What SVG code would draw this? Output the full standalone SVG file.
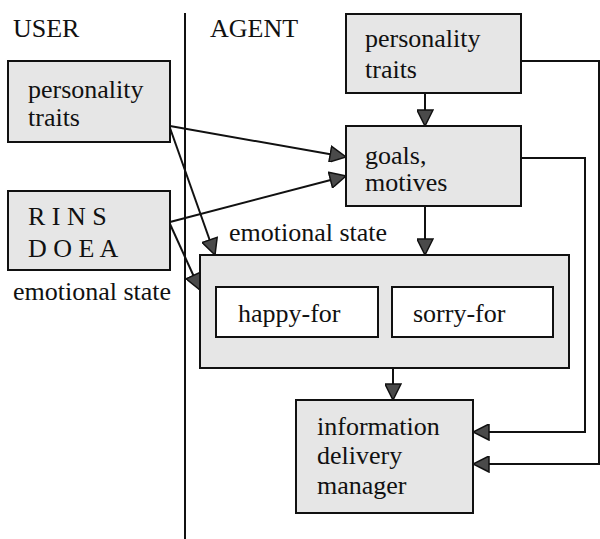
<svg xmlns="http://www.w3.org/2000/svg" width="600" height="539" viewBox="0 0 600 539">
<style>
.box{fill:#e6e6e6;stroke:#111;stroke-width:2}
.inner{fill:#fff;stroke:#111;stroke-width:2}
.ln{fill:none;stroke:#111;stroke-width:2}
</style>
<defs>
<marker id="ah" markerUnits="userSpaceOnUse" markerWidth="18" markerHeight="17" refX="16" refY="8" orient="auto" viewBox="-1 -1 18 17">
<path d="M0,0 L16,8 L0,16 Z" fill="#4a4a4a" stroke="#111" stroke-width="1.5"/>
</marker>
</defs>
<g font-family="Liberation Serif, serif" font-size="26" fill="#111">
<line x1="185" y1="13" x2="185" y2="539" stroke="#111" stroke-width="2"/>
<text x="13" y="37">USER</text>
<text x="210" y="37">AGENT</text>
<g id="connectors">
<path class="ln" d="M425,93 L425,126" marker-end="url(#ah)"/>
<path class="ln" d="M425,206 L425,255" marker-end="url(#ah)"/>
<path class="ln" d="M393,368 L393,400" marker-end="url(#ah)"/>
<path class="ln" d="M521,158 L585,158 L585,432 L473,432" marker-end="url(#ah)"/>
<path class="ln" d="M521,61 L599,61 L599,464 L473,464" marker-end="url(#ah)"/>
<path class="ln" d="M170,126 L346,157" marker-end="url(#ah)"/>
<path class="ln" d="M170,128 L215,255" marker-end="url(#ah)"/>
<path class="ln" d="M170,222 L346,176" marker-end="url(#ah)"/>
<path class="ln" d="M170,224 L200,290" marker-end="url(#ah)"/>
</g>
<g id="user-personality">
<rect class="box" x="8" y="61" width="162" height="81"/>
<text x="28" y="98">personality</text>
<text x="28" y="126">traits</text>
</g>
<g id="user-rinsdoea">
<rect class="box" x="8" y="191" width="162" height="79"/>
<text x="28" y="225">R I N S</text>
<text x="28" y="257">D O E A</text>
</g>
<text id="label-user-emotional" x="13" y="300">emotional state</text>
<g id="agent-personality">
<rect class="box" x="346" y="14" width="175" height="79"/>
<text x="365" y="47">personality</text>
<text x="365" y="78">traits</text>
</g>
<g id="goals">
<rect class="box" x="346" y="126" width="175" height="80"/>
<text x="365" y="164">goals,</text>
<text x="365" y="191">motives</text>
</g>
<text id="label-agent-emotional" x="229" y="241">emotional state</text>
<g id="emotional-state">
<rect class="box" x="200" y="255" width="369" height="113"/>
<g id="happy-for">
<rect class="inner" x="216" y="287" width="162" height="50"/>
<text x="238" y="322">happy-for</text>
</g>
<g id="sorry-for">
<rect class="inner" x="392" y="287" width="161" height="50"/>
<text x="413" y="322">sorry-for</text>
</g>
</g>
<g id="info-manager">
<rect class="box" x="296" y="400" width="177" height="113"/>
<text x="317" y="435">information</text>
<text x="317" y="464">delivery</text>
<text x="317" y="494">manager</text>
</g>
</g>
</svg>
